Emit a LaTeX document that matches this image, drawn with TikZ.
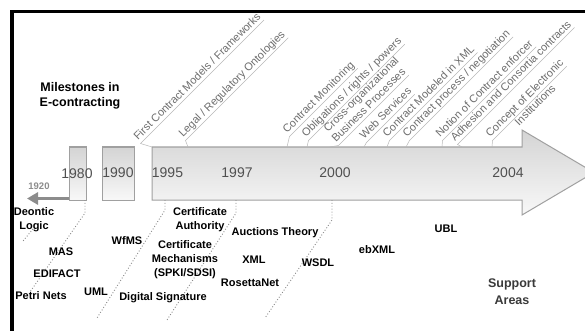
\documentclass[tikz,border=0pt]{standalone}
\usepackage{fontspec}
\setmainfont{Liberation Sans}
\usetikzlibrary{arrows.meta,calc}
\definecolor{boxc}{HTML}{A0A0A0}
\definecolor{shtop}{HTML}{D4D4D4}
\definecolor{shbot}{HTML}{F8F8F8}
\definecolor{yearc}{HTML}{505050}
\definecolor{topc}{HTML}{6E6E6E}
\definecolor{leadc}{HTML}{B8B8B8}
\definecolor{dotc}{HTML}{8A8A8A}
\definecolor{oldc}{HTML}{8C8C8C}
\definecolor{suppc}{HTML}{3A3A3A}
\tikzset{
  yearlbl/.style={font=\fontsize{14}{16}\selectfont, text=yearc, inner sep=0pt},
  toplbl/.style={font=\fontsize{11}{13}\selectfont, text=topc, rotate=45, anchor=base west, inner sep=0pt},
  botlbl/.style={font=\bfseries\fontsize{11}{14}\selectfont, text=black, align=center, inner sep=0pt},
  leader/.style={draw=leadc, line width=0.5pt},
  dotline/.style={draw=dotc, dotted, line width=0.9pt},
  yearbox/.style={draw=boxc, line width=1pt, top color=shtop, bottom color=shbot, inner sep=0pt, minimum height=53pt},
}
\newcommand\toplabel[5]{%
  \node[toplbl] (#1) at (#2,#3) {#5};
  \coordinate (#1f) at (#4,147);
  \draw[leader] (#1f) -- ($(#1.base west)!3.5pt!-90:(#1.base east)$) -- ($(#1.base east)!3.5pt!90:(#1.base west)$);
}
\begin{document}
\begin{tikzpicture}[x=1pt,y=-1pt]
\useasboundingbox (0,0) rectangle (585,331);
\clip (0,0) rectangle (585,331);
\fill[white] (0,0) rectangle (585,331);
% frame
\draw[line width=3.6pt, line join=miter] (12,331) -- (12,11.5) -- (585,11.5);
% year boxes
\node[yearbox, minimum width=17pt] (b1980) at (77.5,173.5) {};
\node[yearbox, minimum width=32pt] (b1990) at (118,173.5) {};
% main arrow
\shadedraw[draw=boxc, line width=1pt, top color=shtop, bottom color=shbot, line join=miter]
  (152,147) coordinate (mtl) -- (522,147) -- (522,130) -- (594,172.5) -- (522,215) -- (522,200) -- (152,200) coordinate (mbl) -- cycle;
% 1920 arrow
\coordinate (old0) at (69,198.5);
\coordinate (old1) at (27,198.5);
\draw[oldc, line width=3.8pt, -{Triangle[length=11pt,width=12pt]}] (old0) -- (old1);
\node[font=\bfseries\fontsize{9.5}{11}\selectfont, text=oldc, inner sep=0pt] (y1920) at (39,186) {1920};
% years
\node[yearlbl] (y1980) at (77,174) {1980};
\node[yearlbl] (y1990) at (118,173) {1990};
\node[yearlbl] (y1995) at (167.5,173) {1995};
\node[yearlbl] (y1997) at (237,173) {1997};
\node[yearlbl] (y2000) at (335,173) {2000};
\node[yearlbl] (y2004) at (508,173) {2004};
% title
\node[font=\bfseries\fontsize{12.5}{15}\selectfont, align=center, inner sep=0pt] (title) at (80,95.5) {Milestones in\\E-contracting};
% top labels
\toplabel{tfirst}{138}{141}{152}{First Contract Models / Frameworks}
\toplabel{tlegal}{183}{138}{188}{Legal / Regulatory Ontologies}
\toplabel{tmon}{287}{134}{287}{Contract Monitoring}
\toplabel{tobl}{306}{138}{307}{Obligations / rights / powers}
\node[toplbl] (tcross) at (328,133) {Cross-organizational};
\toplabel{tbus}{336}{143}{330}{Business Processes}
\toplabel{tweb}{364}{140}{364}{Web Services}
\toplabel{txml}{387}{138}{387}{Contract Modeled in XML}
\toplabel{tproc}{407}{138}{406}{Contract process / negotiation}
\toplabel{tnot}{440}{138}{442}{Notion of Contract enforcer}
\toplabel{tadh}{455}{142}{462}{Adhesion and Consortia contracts}
\toplabel{tconc}{490}{138}{492}{Concept of Electronic}
\node[toplbl] (tinst) at (519,126.5) {Institutions};
% dotted leaders below
\coordinate (d1a) at (85,200); \coordinate (d1b) at (85,213); \coordinate (d1c) at (30,292);
\draw[dotline] (d1a) -- (d1b) -- (d1c);
\coordinate (d0a) at (33,229); \coordinate (d0b) at (23,241);
\draw[dotline] (d0a) -- (d0b);
\coordinate (d2a) at (165,200); \coordinate (d2b) at (165,210); \coordinate (d2c) at (97,318);
\draw[dotline] (d2a) -- (d2b) -- (d2c);
\coordinate (d3a) at (236,200); \coordinate (d3b) at (236,213); \coordinate (d3c) at (167,320);
\draw[dotline] (d3a) -- (d3b) -- (d3c);
\coordinate (d4a) at (332,200); \coordinate (d4b) at (332,220); \coordinate (d4c) at (265,318);
\draw[dotline] (d4a) -- (d4b) -- (d4c);
% support labels
\node[botlbl] (deon) at (34,220) {Deontic\\Logic};
\node[botlbl] (mas) at (61,252) {MAS};
\node[botlbl] (edi) at (57,274) {EDIFACT};
\node[botlbl] (petri) at (41,296) {Petri Nets};
\node[botlbl] (uml) at (96,292) {UML};
\node[botlbl] (wfms) at (127,241) {WfMS};
\node[botlbl] (dsig) at (163,298) {Digital Signature};
\node[botlbl] (cauth) at (200,219.5) {Certificate\\Authority};
\node[botlbl] (cmech) at (185,260) {Certificate\\Mechanisms\\(SPKI/SDSI)};
\node[botlbl] (auct) at (275,233) {Auctions Theory};
\node[botlbl] (xml) at (254,260) {XML};
\node[botlbl] (ros) at (250,283) {RosettaNet};
\node[botlbl] (wsdl) at (318,263) {WSDL};
\node[botlbl] (ebxml) at (377,250) {ebXML};
\node[botlbl] (ubl) at (446,229) {UBL};
\node[font=\bfseries\fontsize{12.5}{17}\selectfont, text=suppc, align=center, inner sep=0pt] (supp) at (512,291.5) {Support\\Areas};
\end{tikzpicture}
\end{document}
